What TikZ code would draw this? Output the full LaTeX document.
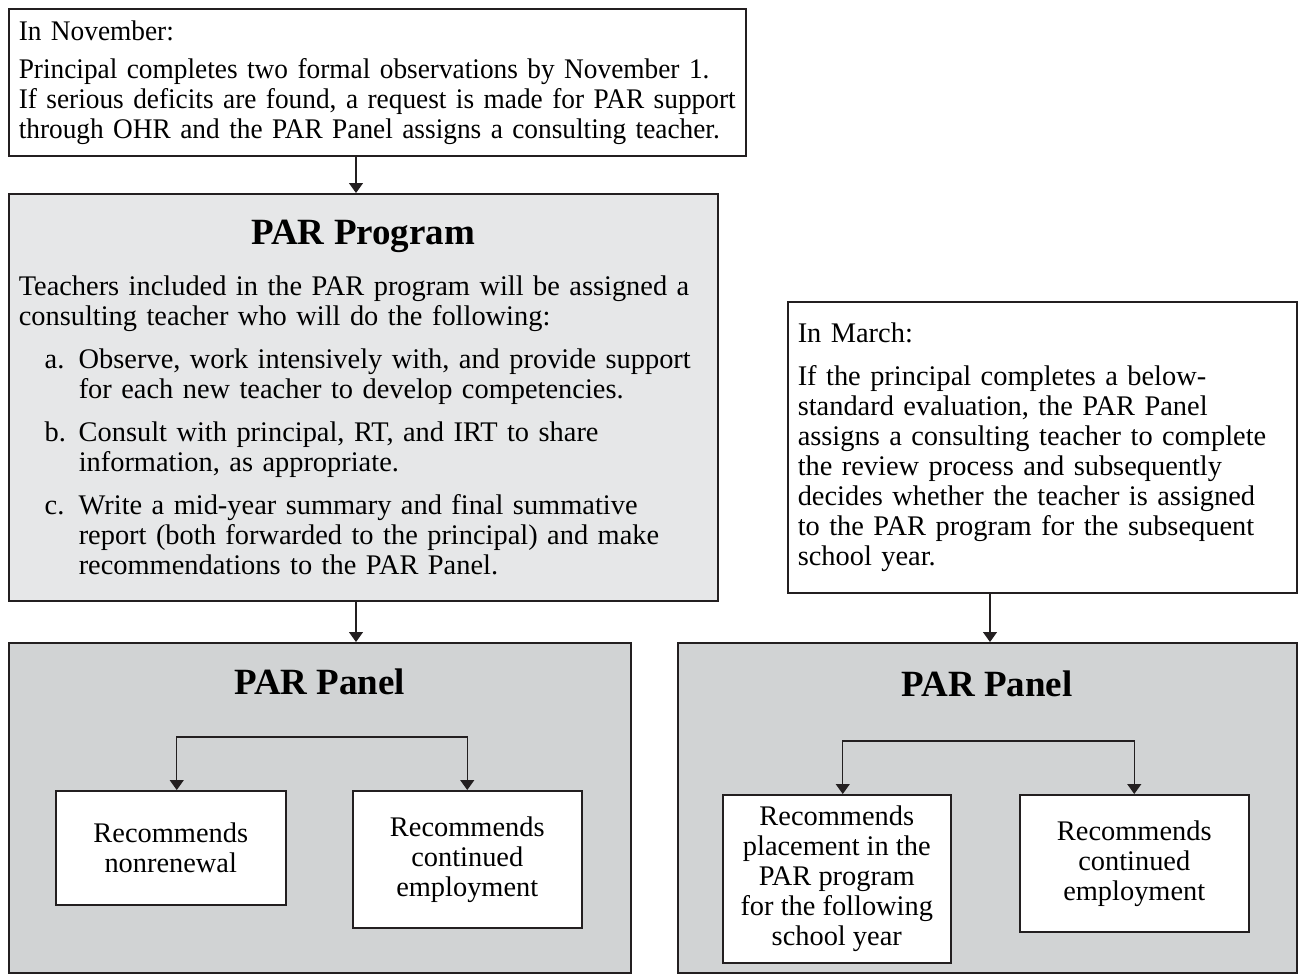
\documentclass[tikz,border=0pt]{standalone}
\usepackage{fontspec}
\setmainfont{Liberation Serif}
\newfontfamily\narrowserif[FakeStretch=0.962]{Liberation Serif}
\usetikzlibrary{positioning,arrows.meta}
\setlength{\parindent}{0pt}
\definecolor{boxline}{HTML}{231F20}
\definecolor{progfill}{HTML}{E6E7E8}
\definecolor{panelfill}{HTML}{D1D3D4}
\newcommand{\bodysize}{\fontsize{14.2pt}{15pt}\selectfont}
\newcommand{\headsize}{\fontsize{18.5pt}{20pt}\selectfont\bfseries}
\newcommand{\steplabel}[1]{\leavevmode\llap{\makebox[17pt][l]{#1}}}

\begin{document}
\begin{tikzpicture}[x=0.5pt, y=-0.5pt,
        info_box/.style={draw=boxline, line width=0.75pt, fill=white, anchor=north west, inner xsep=5pt, inner ysep=0pt, font=\bodysize, execute at begin node={\raggedright\rightskip=-20pt plus 1fil}},
        prog_box/.style={info_box, fill=progfill},
        panel_box/.style={draw=boxline, line width=0.75pt, fill=panelfill, anchor=north west, inner sep=0pt},
        panel_title/.style={inner sep=0pt, font=\headsize},
        rec_box/.style={draw=boxline, line width=0.75pt, fill=white, anchor=north west, inner sep=0pt, align=center, font=\bodysize},
        flow_arrow/.style={draw=boxline, line width=0.6pt, -{Triangle[width=7pt,length=5pt]}},
        split_arrow/.style={draw=boxline, line width=0.6pt, {Triangle[width=7pt,length=5pt]}-{Triangle[width=7pt,length=5pt]}}
        ]
            \useasboundingbox (0,0) rectangle (1299,976);

            % left column
            \node[info_box, font=\narrowserif\bodysize, text width=358.5pt, minimum height=73.5pt] (nov) at (8,8)
                {In November:\\[4pt]
                Principal completes two formal observations by November 1.\\
                If serious deficits are found, a request is made for PAR support\\
                through OHR and the PAR Panel assigns a consulting teacher.\par};
            \node[prog_box, text width=344.5pt, minimum height=203.5pt] (prog) at (8,193)
                {{\centering\headsize PAR Program\par}\vspace{10.5pt}
                Teachers included in the PAR program will be assigned a\\
                consulting teacher who will do the following:\par
                \leftskip=30pt
                \vspace{6.5pt}\steplabel{a.}Observe, work intensively with, and provide support\\
                for each new teacher to develop competencies.\par
                \vspace{6.5pt}\steplabel{b.}Consult with principal, RT, and IRT to share\\
                information, as appropriate.\par
                \vspace{6.5pt}\steplabel{c.}Write a mid-year summary and final summative\\
                report (both forwarded to the principal) and make\\
                recommendations to the PAR Panel.\par};

            % left panel
            \node[panel_box, minimum width=311pt, minimum height=165pt] (lpanel) at (8,642) {};
            \node[panel_title, below=13pt of lpanel.north] (ltitle) {PAR Panel};
            \node[rec_box, minimum width=115pt, minimum height=57pt] (lnon) at (55,790) {Recommends\\nonrenewal};
            \node[rec_box, minimum width=114.5pt, minimum height=68.5pt] (lcont) at (352,790) {Recommends\\continued\\employment};

            % right column
            \node[info_box, text width=244.5pt, minimum height=145.5pt] (march) at (787,301)
                {In March:\\[6.5pt]
                If the principal completes a below-\\
                standard evaluation, the PAR Panel\\
                assigns a consulting teacher to complete\\
                the review process and subsequently\\
                decides whether the teacher is assigned\\
                to the PAR program for the subsequent\\
                school year.\par};
            \node[panel_box, minimum width=309.5pt, minimum height=165pt] (rpanel) at (677,642) {};
            \node[panel_title, below=14pt of rpanel.north] (rtitle) {PAR Panel};
            \node[rec_box, minimum width=114pt, minimum height=84pt] (rplace) at (722,794) {Recommends\\placement in the\\PAR program\\for the following\\school year};
            \node[rec_box, minimum width=114.5pt, minimum height=68.5pt] (rcont) at (1019,794) {Recommends\\continued\\employment};

            % arrows
            \coordinate (xleft) at (356,0);
            \coordinate (xright) at (990,0);
            \draw[flow_arrow] (nov.south -| xleft) -- (prog.north -| xleft);
            \draw[flow_arrow] (prog.south -| xleft) -- (lpanel.north -| xleft);
            \draw[flow_arrow] (march.south -| xright) -- (rpanel.north -| xright);
            \draw[split_arrow] ([xshift=3pt]lnon.north) -- ++(0,-53) -| (lcont.north);
            \draw[split_arrow] ([xshift=3pt]rplace.north) -- ++(0,-53) -| (rcont.north);
        \end{tikzpicture}
\end{document}
